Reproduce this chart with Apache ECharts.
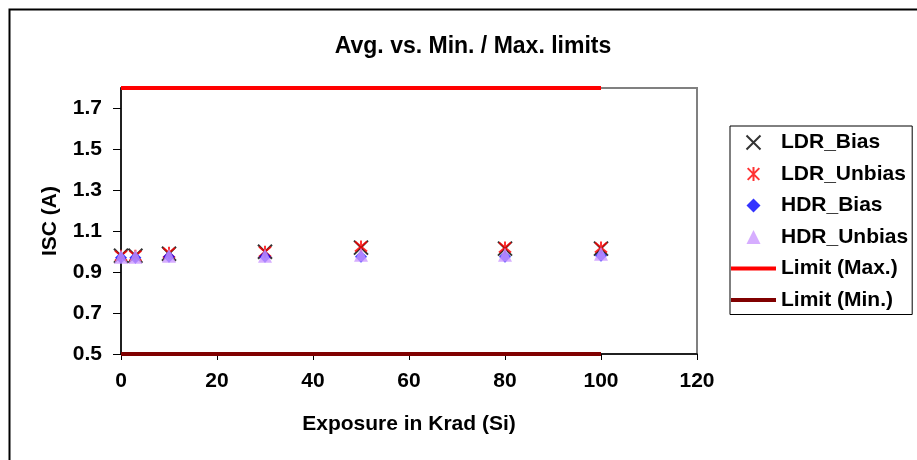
<!DOCTYPE html>
<html>
<head>
<meta charset="utf-8">
<script src="https://cdn.jsdelivr.net/npm/echarts@6/dist/echarts.min.js"></script>
<style>
  html, body { margin: 0; padding: 0; background: #fff; }
  #chart { width: 917px; height: 460px; }
</style>
</head>
<body>
<div id="chart"></div>
<script>
// exposure points (Krad)
var exposure = [0, 3, 10, 30, 50, 80, 100];
// ISC values
var ldrBias = [0.98, 0.98, 0.99, 1.00, 1.02, 1.015, 1.015];
var ldrUnbias = [0.98, 0.98, 0.995, 1.00, 1.025, 1.02, 1.02];
var hdrBias = [0.97, 0.97, 0.975, 0.975, 0.975, 0.975, 0.98];
var hdrUnbias = [0.975, 0.975, 0.98, 0.98, 0.985, 0.985, 0.99];
// limits
var limitX = [0, 100];
var limitMax = [1.8, 1.8];
var limitMin = [0.5, 0.5];

function pairs(xs, ys) {
  return xs.map(function (x, i) { return [x, ys[i]]; });
}

var font = 'Liberation Sans, Arial, sans-serif';
var crossPath = 'path://M0,0L10,10M10,0L0,10';
var starPath = 'path://M0,0L10,10M10,0L0,10M5,-1L5,11';
var diamondPath = 'path://M5,0L10,5L5,10L0,5Z';
var trianglePath = 'path://M5,0L10,10L0,10Z';
var linePath = 'path://M0,0L45,0L45,4L0,4Z';

var chart = echarts.init(document.getElementById('chart'));
var option = {
  animation: false,
  backgroundColor: '#fff',
  graphic: [{
    type: 'rect',
    left: 7, top: 7,
    shape: { width: 1000, height: 1000 },
    style: { fill: 'none', stroke: '#000', lineWidth: 2 }
  }],
  title: {
    text: 'Avg. vs. Min. / Max. limits',
    left: 468, top: 30,
    textAlign: 'center',
    textStyle: { fontFamily: font, fontWeight: 'bold', fontSize: 23, color: '#000' }
  },
  grid: {
    left: 121, top: 88, right: 220, bottom: 106,
    show: true, borderColor: '#808080', borderWidth: 2
  },
  legend: {
    orient: 'vertical',
    left: 730, top: 126,
    backgroundColor: '#fff',
    borderColor: '#000', borderWidth: 1,
    padding: [6, 4, 4, 1],
    itemWidth: 45, itemHeight: 14, itemGap: 10.5,
    textStyle: { fontFamily: font, fontWeight: 'bold', fontSize: 21, color: '#000' },
    data: [
      { name: 'LDR_Bias', icon: crossPath },
      { name: 'LDR_Unbias', icon: starPath },
      { name: 'HDR_Bias', icon: diamondPath },
      { name: 'HDR_Unbias', icon: trianglePath },
      { name: 'Limit (Max.)', icon: linePath },
      { name: 'Limit (Min.)', icon: linePath }
    ]
  },
  xAxis: {
    type: 'value',
    min: 0, max: 120, interval: 20,
    name: 'Exposure in Krad (Si)',
    nameLocation: 'middle', nameGap: 60,
    nameTextStyle: { fontFamily: font, fontWeight: 'bold', fontSize: 21, color: '#000' },
    axisLine: { lineStyle: { color: '#000', width: 1.5 } },
    axisTick: { show: true, length: 6, lineStyle: { color: '#000' } },
    axisLabel: { fontFamily: font, fontWeight: 'bold', fontSize: 21, color: '#000', margin: 17 },
    splitLine: { show: false }
  },
  yAxis: {
    type: 'value',
    min: 0.5, max: 1.8, interval: 0.2,
    name: 'ISC (A)',
    nameLocation: 'middle', nameGap: 60,
    nameTextStyle: { fontFamily: font, fontWeight: 'bold', fontSize: 21, color: '#000' },
    axisLine: { show: true, lineStyle: { color: '#000', width: 1.5 } },
    axisTick: { show: true, length: 8, lineStyle: { color: '#000' } },
    axisLabel: {
      fontFamily: font, fontWeight: 'bold', fontSize: 21, color: '#000', margin: 19,
      showMaxLabel: false,
      formatter: function (v) { return v.toFixed(1); }
    },
    splitLine: { show: false }
  },
  series: [
    {
      name: 'LDR_Bias', type: 'scatter',
      symbol: crossPath, symbolSize: 14,
      itemStyle: { color: 'rgba(0,0,0,0)', borderColor: '#000', borderWidth: 2 },
      data: pairs(exposure, ldrBias)
    },
    {
      name: 'LDR_Unbias', type: 'scatter',
      symbol: starPath, symbolSize: 12,
      itemStyle: { color: 'rgba(0,0,0,0)', borderColor: '#ff0000', borderWidth: 2 },
      data: pairs(exposure, ldrUnbias)
    },
    {
      name: 'HDR_Bias', type: 'scatter',
      symbol: 'diamond', symbolSize: 12,
      itemStyle: { color: '#0000ff' },
      data: pairs(exposure, hdrBias)
    },
    {
      name: 'HDR_Unbias', type: 'scatter',
      symbol: 'triangle', symbolSize: 14,
      itemStyle: { color: '#cc99ff' },
      data: pairs(exposure, hdrUnbias)
    },
    {
      name: 'Limit (Max.)', type: 'line',
      symbol: 'none', z: 5,
      lineStyle: { color: '#ff0000', width: 4 },
      itemStyle: { color: '#ff0000' },
      data: pairs(limitX, limitMax)
    },
    {
      name: 'Limit (Min.)', type: 'line',
      symbol: 'none', z: 5,
      lineStyle: { color: '#800000', width: 4 },
      itemStyle: { color: '#800000' },
      data: pairs(limitX, limitMin)
    }
  ]
};
option && chart.setOption(option);
</script>
</body>
</html>
